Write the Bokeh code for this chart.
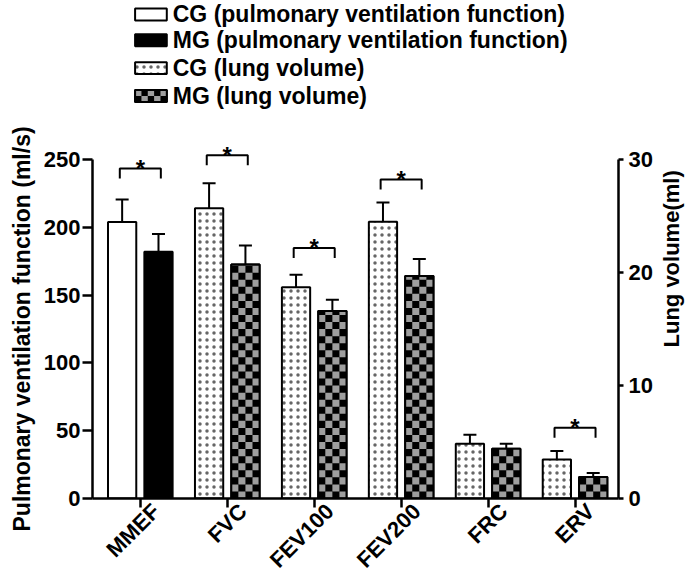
from math import pi

from bokeh.plotting import figure
from bokeh.layouts import row
from bokeh.models import (ColumnDataSource, Range1d, LinearAxis, FixedTicker, Whisker, TeeHead, Title)
from bokeh.core.properties import value
from bokeh.embed import file_html
from bokeh.resources import INLINE

# ---------------- data ----------------
categories = ["MMEF", "FVC", "FEV100", "FEV200", "FRC", "ERV"]

pulm_categories = ["MMEF"]
cg_pulm = [204.0]
cg_pulm_err = [16.5]
mg_pulm = [182.0]
mg_pulm_err = [13.0]

vol_categories = ["FVC", "FEV100", "FEV200", "FRC", "ERV"]
cg_vol = [25.7, 18.7, 24.5, 4.85, 3.45]
cg_vol_err = [2.2, 1.1, 1.7, 0.8, 0.75]
mg_vol = [20.7, 16.6, 19.7, 4.4, 1.9]
mg_vol_err = [1.7, 1.0, 1.5, 0.45, 0.35]

sig_categories = ["MMEF", "FVC", "FEV100", "FEV200", "ERV"]
sig_level = [243.4, 253.2, 184.8, 235.3, 52.1]   # bracket heights (left-axis units)

left_ticks = [0, 50, 100, 150, 200, 250]
right_ticks = [0, 10, 20, 30]
legend_labels = ["CG (pulmonary ventilation function)",
                 "MG (pulmonary ventilation function)",
                 "CG (lung volume)",
                 "MG (lung volume)"]
left_title = "Pulmonary ventilation function (ml/s)"
right_title = "Lung volume(ml)"

# ---------------- layout constants ----------------
W, H = 655, 584
BL, BR, BT, BB = 88, 36, 0, 83
FRAME_H = H - BT - BB
FRAME_W = W - BL - BR
X0, X1 = -0.55, 5.5
PXX = FRAME_W / (X1 - X0)
LEFT_MAX, RIGHT_MAX = left_ticks[-1], right_ticks[-1]
PX = 341.0 / LEFT_MAX                      # pixels per left unit
PXV = PX * LEFT_MAX / RIGHT_MAX            # pixels per right unit
Y_END = FRAME_H / PX
OFF, BW = 0.209, 0.325
BR_HALF = 0.236
LEG = 10 / PX
LABEL_SHIFT = 0.18
GRAY = "#9e9e9e"

FONT = "Liberation Sans"
FS = "22px"

pos = {c: i for i, c in enumerate(categories)}

def xd(sx):
    return X0 + (sx - BL) / PXX

def yd(sy):
    return (FRAME_H - sy) / PX

p = figure(width=W, height=H, x_range=Range1d(X0, X1), y_range=Range1d(0, Y_END),
           output_backend="svg", toolbar_location=None, title=None,
           min_border_left=BL, min_border_right=BR, min_border_top=BT, min_border_bottom=BB)
p.extra_y_ranges = {"vol": Range1d(0, Y_END * RIGHT_MAX / LEFT_MAX)}
p.outline_line_color = None
p.xgrid.visible = False
p.ygrid.visible = False

DOTS = dict(hatch_pattern="dot", hatch_scale=7, hatch_color="black", hatch_alpha=0.6)

def src(cats, vals, errs, off):
    return ColumnDataSource(dict(x=[pos[c] + off for c in cats], top=vals,
                                 upper=[v + e for v, e in zip(vals, errs)]))

s1 = src(pulm_categories, cg_pulm, cg_pulm_err, -OFF)
s2 = src(pulm_categories, mg_pulm, mg_pulm_err, OFF)
s3 = src(vol_categories, cg_vol, cg_vol_err, -OFF)
s4 = src(vol_categories, mg_vol, mg_vol_err, OFF)

p.vbar(x="x", top="top", width=BW, source=s1, fill_color="white", line_color="black", line_width=2)
p.vbar(x="x", top="top", width=BW, source=s2, fill_color="black", line_color="black", line_width=2)
p.vbar(x="x", top="top", width=BW, source=s3, y_range_name="vol", fill_color="white",
       line_color="black", line_width=2, **DOTS)
p.vbar(x="x", top="top", width=BW, source=s4, y_range_name="vol", fill_color="black",
       line_color="black", line_width=2)

# checkerboard cells inside the MG (lung volume) bars
def checker_cells(x_left, x_right, y_bottom, y_top, ncols, cell_h):
    cw = (x_right - x_left) / ncols
    L, R, B, T = [], [], [], []
    r = 0
    while y_bottom + r * cell_h < y_top - 1e-9:
        b = y_bottom + r * cell_h
        t = min(b + cell_h, y_top)
        for c in range(ncols):
            if (r + c) % 2 == 1:
                L.append(x_left + c * cw); R.append(x_left + (c + 1) * cw)
                B.append(b); T.append(t)
        r += 1
    return L, R, B, T

cl, cr, cb, ct = [], [], [], []
for xc, top in zip(s4.data["x"], s4.data["top"]):
    L, R, B, T = checker_cells(xc - BW / 2, xc + BW / 2, 0, top, 4, 7.1 / PXV)
    cl += L; cr += R; cb += B; ct += T
p.quad(left=cl, right=cr, bottom=cb, top=ct, y_range_name="vol", fill_color=GRAY, line_color=None)
p.vbar(x="x", top="top", width=BW, source=s4, y_range_name="vol", fill_alpha=0,
       line_color="black", line_width=2)

for s, rn in [(s1, "default"), (s2, "default"), (s3, "vol"), (s4, "vol")]:
    p.add_layout(Whisker(base="x", upper="upper", lower="top", source=s, dimension="height",
                         upper_head=TeeHead(size=13, line_width=2, line_color="black"), lower_head=None,
                         line_width=2, line_color="black", y_range_name=rn, level="glyph"))

# significance brackets
bx = [[pos[c] - BR_HALF, pos[c] - BR_HALF, pos[c] + BR_HALF, pos[c] + BR_HALF] for c in sig_categories]
by = [[y - LEG, y, y, y - LEG] for y in sig_level]
p.multi_line(xs=bx, ys=by, line_color="black", line_width=2)
p.text(x=[pos[c] for c in sig_categories], y=sig_level, text=["*"] * len(sig_categories),
       text_align="center", text_baseline="alphabetic", text_font=value(FONT), text_font_size="24px",
       text_font_style="bold", text_color="black")

# legend (drawn inside the frame, above the bars)
LEG_ROWS = [14, 40, 68, 96]
LEG_BOX = (131, 163)
LEG_TEXT_X = 169
box_styles = [dict(fill_color="white"), dict(fill_color="black"),
              dict(fill_color="white", **DOTS), dict(fill_color="black")]
for cy, st in zip(LEG_ROWS, box_styles):
    p.quad(left=[xd(LEG_BOX[0])], right=[xd(LEG_BOX[1])], bottom=[yd(cy + 6)], top=[yd(cy - 6)],
           line_color="black", line_width=2, **st)
L, R, B, T = checker_cells(xd(LEG_BOX[0]), xd(LEG_BOX[1]), yd(LEG_ROWS[3] + 6), yd(LEG_ROWS[3] - 6), 5, 6 / PX)
p.quad(left=L, right=R, bottom=B, top=T, fill_color=GRAY, line_color=None)
p.quad(left=[xd(LEG_BOX[0])], right=[xd(LEG_BOX[1])], bottom=[yd(LEG_ROWS[3] + 6)], top=[yd(LEG_ROWS[3] - 6)],
       fill_alpha=0, line_color="black", line_width=2)
p.text(x=[xd(LEG_TEXT_X)] * len(legend_labels), y=[yd(cy) for cy in LEG_ROWS], text=legend_labels,
       text_align="left", text_baseline="middle", text_font=value(FONT), text_font_size="23px",
       text_font_style="bold", text_color="black")

# axes
def style_axis(ax):
    ax.axis_line_width = 2.5
    ax.major_tick_line_width = 2.5
    ax.minor_tick_line_color = None
    ax.major_tick_in = 0
    ax.major_label_text_font = FONT
    ax.major_label_text_font_size = FS
    ax.major_label_text_font_style = "bold"
    ax.major_label_text_color = "black"
    ax.axis_line_color = "black"
    ax.major_tick_line_color = "black"

ya = p.yaxis[0]
style_axis(ya)
ya.ticker = FixedTicker(ticks=left_ticks)
ya.bounds = (0, LEFT_MAX)
ya.major_tick_out = 10
ya.major_label_standoff = 2

ra = LinearAxis(y_range_name="vol", ticker=FixedTicker(ticks=right_ticks))
style_axis(ra)
ra.bounds = (0, RIGHT_MAX)
ra.major_tick_out = 5
ra.major_label_standoff = 5
p.add_layout(ra, "right")

# x axis: labels on shifted major ticks (marks hidden), tick marks on minor ticks at group centres
label_ticks = [i + LABEL_SHIFT for i in range(len(categories))]
xa = p.xaxis[0]
style_axis(xa)
xa.ticker = FixedTicker(ticks=label_ticks, minor_ticks=list(range(len(categories))))
xa.major_label_overrides = {t: c for t, c in zip(label_ticks, categories)}
xa.major_tick_line_color = None
xa.major_tick_out = 9
xa.minor_tick_line_color = "black"
xa.minor_tick_line_width = 2.5
xa.minor_tick_out = 9
xa.minor_tick_in = 0
xa.major_label_standoff = 0
xa.major_label_orientation = pi / 4

# left title
p.add_layout(Title(text=left_title, align="left", offset=-33, text_font=FONT, text_font_size="23px",
                   text_font_style="bold", text_color="black", standoff=12), "left")

# right title in a narrow companion figure
p2 = figure(width=685 - W, height=H, x_range=Range1d(0, 1), y_range=Range1d(-BB / PX, Y_END),
            output_backend="svg", toolbar_location=None, title=None, min_border=0,
            x_axis_type=None, y_axis_type=None)
p2.outline_line_color = None
p2.text(x=[16 / (685 - W)], y=[yd(303)], text=[right_title], angle=pi / 2, text_align="center",
        text_baseline="middle", text_font=value(FONT), text_font_size=FS, text_font_style="bold",
        text_color="black")

layout = row(p, p2, spacing=0)
open("out.html", "w").write(file_html(layout, INLINE))
